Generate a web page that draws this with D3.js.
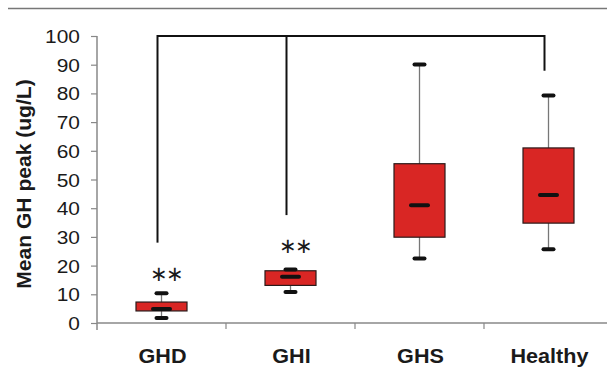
<!DOCTYPE html>
<html lang="en">
<head>
<meta charset="utf-8">
<title>Mean GH peak</title>
<style>
  body { margin: 0; background: #fff; }
  svg text { font-family: "Liberation Sans", Arial, sans-serif; fill: #1a1a1a; }
</style>
</head>
<body>
<svg width="607" height="383"></svg>
<script src="https://d3js.org/d3.v7.min.js"></script>
<script>
  // groups and box-plot stats
  var groups = ["GHD", "GHI", "GHS", "Healthy"];
  var whiskerLow  = [1.7, 10.8, 22.5, 25.7];
  var boxLow      = [4.2, 13.1, 29.9, 34.8];
  var medians     = [4.9, 16.1, 41.0, 44.6];
  var boxHigh     = [7.3, 18.2, 55.5, 61.0];
  var whiskerHigh = [10.4, 18.6, 90.1, 79.3];
  var yTicks = [0, 10, 20, 30, 40, 50, 60, 70, 80, 90, 100];

  // significance bracket: top level and where each leg stops
  var bracketTop = 100;
  var bracketLegs = [
    { group: "GHD", end: 28 },
    { group: "GHI", end: 37.6 },
    { group: "Healthy", end: 87.9 }
  ];
  // "**" markers and the level they sit at
  var starGroups = ["GHD", "GHI"];
  var starLevels = [17.0, 26.6];

  var svg = d3.select("svg");

  var x = d3.scaleBand().domain(groups).range([97, 613]);
  var y = d3.scaleLinear().domain([0, 100]).range([323, 36]);

  var data = groups.map(function(g, i) {
    return { name: g, lo: whiskerLow[i], q1: boxLow[i], med: medians[i], q3: boxHigh[i], hi: whiskerHigh[i] };
  });
  var cx = function(d) { return x(d.name) + x.bandwidth() / 2; };

  // top rule
  svg.append("line")
    .attr("x1", 8).attr("x2", 607).attr("y1", 8.5).attr("y2", 8.5)
    .attr("stroke", "#777").attr("stroke-width", 1.5);

  // y axis
  var yAxis = svg.append("g")
    .attr("transform", "translate(97,0)")
    .call(d3.axisLeft(y).tickValues(yTicks).tickSize(6).tickPadding(10));
  yAxis.select(".domain").attr("stroke", "#888").attr("stroke-width", 1.5)
    .attr("d", "M0," + y(100) + "V" + (y(0) + 7));
  yAxis.selectAll(".tick line").attr("stroke", "#888").attr("stroke-width", 1.2);
  yAxis.selectAll(".tick text")
    .attr("font-size", 19).attr("fill", "#1a1a1a")
    .attr("font-family", "Liberation Sans, Arial, sans-serif")
    .attr("transform", "translate(0,0.5) scale(1.1,1)")
    .attr("x", -16 / 1.1 - 1);

  // x axis
  var xAxis = svg.append("g").attr("transform", "translate(0," + y(0) + ")");
  xAxis.append("line")
    .attr("x1", 97).attr("x2", 607)
    .attr("stroke", "#888").attr("stroke-width", 1.5);
  xAxis.selectAll("line.tk")
    .data(groups.slice(1))
    .enter().append("line")
    .attr("class", "tk")
    .attr("x1", function(d) { return x(d); })
    .attr("x2", function(d) { return x(d); })
    .attr("y1", 0).attr("y2", 6)
    .attr("stroke", "#888").attr("stroke-width", 1.2);
  xAxis.selectAll("text")
    .data(groups)
    .enter().append("text")
    .attr("transform", function(d) {
      return "translate(" + (x(d) + x.bandwidth() / 2 + 1) + ",40) scale(1.08,1)";
    })
    .attr("text-anchor", "middle")
    .attr("font-size", 20).attr("font-weight", "bold")
    .text(function(d) { return d; });

  // y title
  svg.append("text")
    .attr("transform", "translate(31,184) rotate(-90) scale(1.08,1)")
    .attr("text-anchor", "middle")
    .attr("font-size", 19.5).attr("font-weight", "bold")
    .text("Mean GH peak (ug/L)");

  // bracket
  var legX = function(g) { return x(g) + x.bandwidth() / 2 - 4; };
  svg.append("path")
    .attr("fill", "none").attr("stroke", "#111").attr("stroke-width", 2)
    .attr("d", "M" + legX("GHD") + "," + y(bracketTop) + "H" + legX("Healthy"));
  svg.selectAll("line.leg")
    .data(bracketLegs)
    .enter().append("line")
    .attr("class", "leg")
    .attr("x1", function(d) { return legX(d.group); })
    .attr("x2", function(d) { return legX(d.group); })
    .attr("y1", y(bracketTop) - 1)
    .attr("y2", function(d) { return y(d.end); })
    .attr("stroke", "#111").attr("stroke-width", 2);

  // boxes
  var box = svg.selectAll("g.box").data(data).enter().append("g").attr("class", "box");
  box.append("line")
    .attr("x1", cx).attr("x2", cx)
    .attr("y1", function(d) { return y(d.hi); })
    .attr("y2", function(d) { return y(d.lo); })
    .attr("stroke", "#777").attr("stroke-width", 1.3);
  box.append("rect")
    .attr("x", function(d) { return cx(d) - 25.5; })
    .attr("width", 51)
    .attr("y", function(d) { return y(d.q3); })
    .attr("height", function(d) { return y(d.q1) - y(d.q3); })
    .attr("fill", "#d92624").attr("stroke", "#2a1a1a").attr("stroke-width", 1.2);
  box.selectAll("line.cap")
    .data(function(d) { return [d.lo, d.hi].map(function(v) { return { c: cx(d), v: v }; }); })
    .enter().append("line")
    .attr("class", "cap")
    .attr("x1", function(d) { return d.c - 5; })
    .attr("x2", function(d) { return d.c + 5; })
    .attr("y1", function(d) { return y(d.v); })
    .attr("y2", function(d) { return y(d.v); })
    .attr("stroke", "#111").attr("stroke-width", 4).attr("stroke-linecap", "round");
  box.append("line")
    .attr("x1", function(d) { return cx(d) - 8.5; })
    .attr("x2", function(d) { return cx(d) + 8.5; })
    .attr("y1", function(d) { return y(d.med); })
    .attr("y2", function(d) { return y(d.med); })
    .attr("stroke", "#111").attr("stroke-width", 4).attr("stroke-linecap", "round");

  // significance stars
  svg.selectAll("text.star")
    .data(starGroups)
    .enter().append("text")
    .attr("class", "star")
    .attr("x", function(d) { return x(d) + x.bandwidth() / 2 + 4; })
    .attr("y", function(d, i) { return y(starLevels[i]); })
    .attr("dy", "0.3em")
    .attr("text-anchor", "middle")
    .attr("font-family", "DejaVu Sans, sans-serif")
    .attr("font-size", 21)
    .attr("letter-spacing", -2.5)
    .attr("fill", "#333")
    .text("\u2217\u2217");
</script>
</body>
</html>
